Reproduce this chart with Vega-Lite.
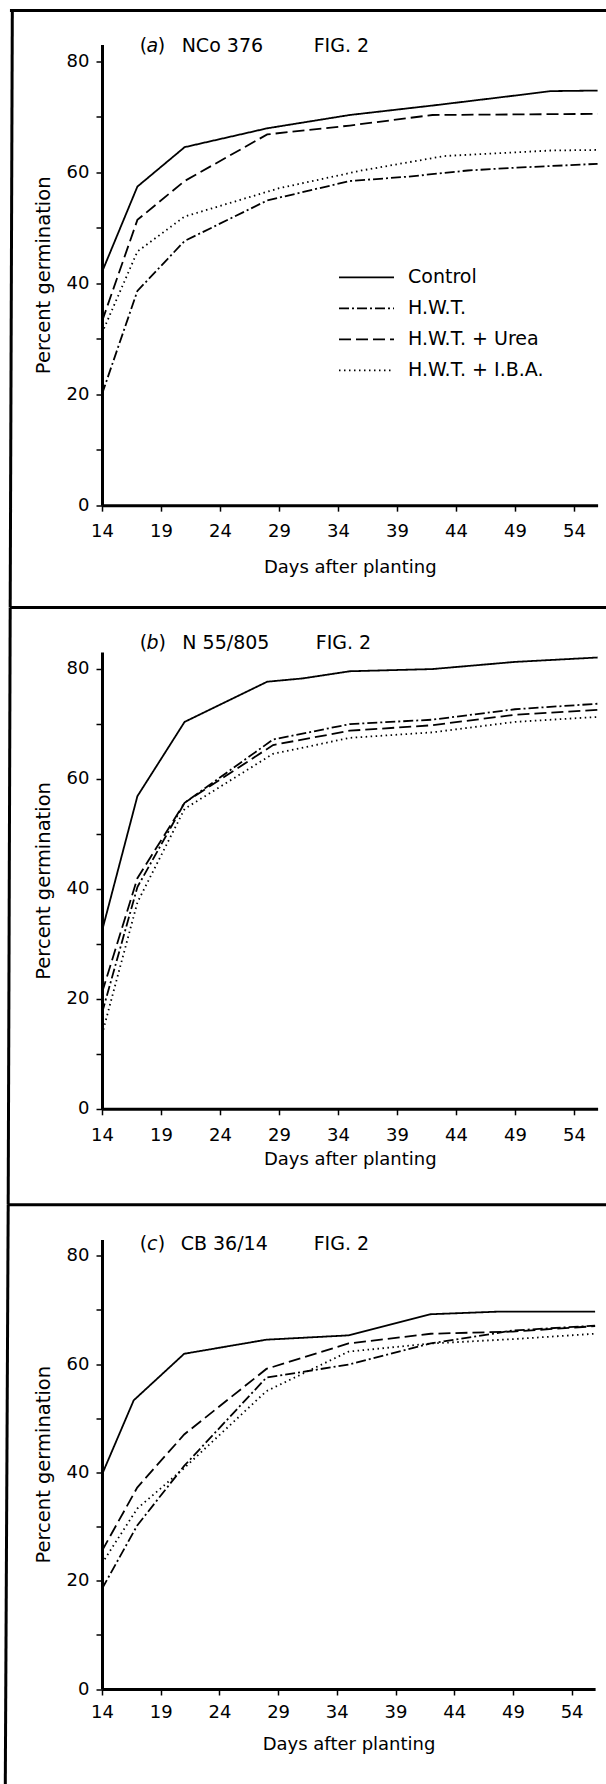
{
  "$schema": "https://vega.github.io/schema/vega-lite/v6.json",
  "background": "white",
  "padding": {"left": 3, "top": 6.5, "right": 0, "bottom": 0},
  "config": {
    "view": {"stroke": null},
    "axis": {"domainColor": "black", "domainWidth": 3, "tickColor": "black", "tickWidth": 1.5, "tickSize": 6, "labelColor": "black", "labelFont": "DejaVu Sans", "labelFontSize": 18, "titleColor": "black", "titleFont": "DejaVu Sans", "titleFontWeight": "normal", "grid": false, "labelFlush": false, "labelOverlap": false},
    "axisX": {"labelPadding": 11, "titleFontSize": 18},
    "axisY": {"labelPadding": 7, "titleFontSize": 19.5, "titlePadding": 13},
    "text": {"font": "DejaVu Sans", "fontSize": 19, "color": "black"}
  },
  "datasets": {
    "germ": [
      {"panel": "a", "treatment": "Control", "day": 14, "pct": 42.0},
      {"panel": "a", "treatment": "Control", "day": 17, "pct": 57.4},
      {"panel": "a", "treatment": "Control", "day": 21, "pct": 64.5},
      {"panel": "a", "treatment": "Control", "day": 28, "pct": 67.9},
      {"panel": "a", "treatment": "Control", "day": 35, "pct": 70.3},
      {"panel": "a", "treatment": "Control", "day": 42, "pct": 72.0},
      {"panel": "a", "treatment": "Control", "day": 49, "pct": 73.8},
      {"panel": "a", "treatment": "Control", "day": 52, "pct": 74.6},
      {"panel": "a", "treatment": "Control", "day": 56, "pct": 74.7},
      {"panel": "a", "treatment": "H.W.T.", "day": 14, "pct": 20.0},
      {"panel": "a", "treatment": "H.W.T.", "day": 17, "pct": 38.6},
      {"panel": "a", "treatment": "H.W.T.", "day": 21, "pct": 47.6},
      {"panel": "a", "treatment": "H.W.T.", "day": 28, "pct": 54.9},
      {"panel": "a", "treatment": "H.W.T.", "day": 35, "pct": 58.4},
      {"panel": "a", "treatment": "H.W.T.", "day": 40, "pct": 59.2},
      {"panel": "a", "treatment": "H.W.T.", "day": 45, "pct": 60.3},
      {"panel": "a", "treatment": "H.W.T.", "day": 49, "pct": 60.8},
      {"panel": "a", "treatment": "H.W.T.", "day": 56, "pct": 61.5},
      {"panel": "a", "treatment": "H.W.T. + Urea", "day": 14, "pct": 33.1},
      {"panel": "a", "treatment": "H.W.T. + Urea", "day": 17, "pct": 51.4},
      {"panel": "a", "treatment": "H.W.T. + Urea", "day": 21, "pct": 58.4},
      {"panel": "a", "treatment": "H.W.T. + Urea", "day": 28, "pct": 66.8},
      {"panel": "a", "treatment": "H.W.T. + Urea", "day": 35, "pct": 68.4},
      {"panel": "a", "treatment": "H.W.T. + Urea", "day": 42, "pct": 70.3},
      {"panel": "a", "treatment": "H.W.T. + Urea", "day": 49, "pct": 70.4},
      {"panel": "a", "treatment": "H.W.T. + Urea", "day": 56, "pct": 70.5},
      {"panel": "a", "treatment": "H.W.T. + I.B.A.", "day": 14, "pct": 31.0},
      {"panel": "a", "treatment": "H.W.T. + I.B.A.", "day": 17, "pct": 45.7},
      {"panel": "a", "treatment": "H.W.T. + I.B.A.", "day": 21, "pct": 52.0},
      {"panel": "a", "treatment": "H.W.T. + I.B.A.", "day": 29, "pct": 57.1},
      {"panel": "a", "treatment": "H.W.T. + I.B.A.", "day": 36, "pct": 60.3},
      {"panel": "a", "treatment": "H.W.T. + I.B.A.", "day": 43, "pct": 62.9},
      {"panel": "a", "treatment": "H.W.T. + I.B.A.", "day": 52, "pct": 63.9},
      {"panel": "a", "treatment": "H.W.T. + I.B.A.", "day": 56, "pct": 64.0},
      {"panel": "b", "treatment": "Control", "day": 14, "pct": 32.3},
      {"panel": "b", "treatment": "Control", "day": 17, "pct": 56.8},
      {"panel": "b", "treatment": "Control", "day": 21, "pct": 70.3},
      {"panel": "b", "treatment": "Control", "day": 28, "pct": 77.6},
      {"panel": "b", "treatment": "Control", "day": 31, "pct": 78.2},
      {"panel": "b", "treatment": "Control", "day": 35, "pct": 79.5},
      {"panel": "b", "treatment": "Control", "day": 42, "pct": 79.9},
      {"panel": "b", "treatment": "Control", "day": 49, "pct": 81.2},
      {"panel": "b", "treatment": "Control", "day": 56, "pct": 82.0},
      {"panel": "b", "treatment": "H.W.T.", "day": 14, "pct": 17.4},
      {"panel": "b", "treatment": "H.W.T.", "day": 17, "pct": 40.3},
      {"panel": "b", "treatment": "H.W.T.", "day": 21, "pct": 55.6},
      {"panel": "b", "treatment": "H.W.T.", "day": 28.5, "pct": 67.1},
      {"panel": "b", "treatment": "H.W.T.", "day": 35, "pct": 69.9},
      {"panel": "b", "treatment": "H.W.T.", "day": 42, "pct": 70.7},
      {"panel": "b", "treatment": "H.W.T.", "day": 49, "pct": 72.6},
      {"panel": "b", "treatment": "H.W.T.", "day": 56, "pct": 73.6},
      {"panel": "b", "treatment": "H.W.T. + Urea", "day": 14, "pct": 21.1},
      {"panel": "b", "treatment": "H.W.T. + Urea", "day": 17, "pct": 41.9},
      {"panel": "b", "treatment": "H.W.T. + Urea", "day": 21, "pct": 55.6},
      {"panel": "b", "treatment": "H.W.T. + Urea", "day": 28.5, "pct": 66.1},
      {"panel": "b", "treatment": "H.W.T. + Urea", "day": 35, "pct": 68.7},
      {"panel": "b", "treatment": "H.W.T. + Urea", "day": 42, "pct": 69.7},
      {"panel": "b", "treatment": "H.W.T. + Urea", "day": 49, "pct": 71.6},
      {"panel": "b", "treatment": "H.W.T. + Urea", "day": 56, "pct": 72.5},
      {"panel": "b", "treatment": "H.W.T. + I.B.A.", "day": 14, "pct": 13.5},
      {"panel": "b", "treatment": "H.W.T. + I.B.A.", "day": 17, "pct": 37.5},
      {"panel": "b", "treatment": "H.W.T. + I.B.A.", "day": 21, "pct": 54.5},
      {"panel": "b", "treatment": "H.W.T. + I.B.A.", "day": 28.5, "pct": 64.5},
      {"panel": "b", "treatment": "H.W.T. + I.B.A.", "day": 35, "pct": 67.4},
      {"panel": "b", "treatment": "H.W.T. + I.B.A.", "day": 42, "pct": 68.4},
      {"panel": "b", "treatment": "H.W.T. + I.B.A.", "day": 49, "pct": 70.3},
      {"panel": "b", "treatment": "H.W.T. + I.B.A.", "day": 56, "pct": 71.2},
      {"panel": "c", "treatment": "Control", "day": 14, "pct": 39.6},
      {"panel": "c", "treatment": "Control", "day": 16.7, "pct": 53.3},
      {"panel": "c", "treatment": "Control", "day": 21, "pct": 61.9},
      {"panel": "c", "treatment": "Control", "day": 28, "pct": 64.5},
      {"panel": "c", "treatment": "Control", "day": 35, "pct": 65.3},
      {"panel": "c", "treatment": "Control", "day": 42, "pct": 69.2},
      {"panel": "c", "treatment": "Control", "day": 48, "pct": 69.7},
      {"panel": "c", "treatment": "Control", "day": 56, "pct": 69.7},
      {"panel": "c", "treatment": "H.W.T.", "day": 14, "pct": 18.5},
      {"panel": "c", "treatment": "H.W.T.", "day": 17, "pct": 30.2},
      {"panel": "c", "treatment": "H.W.T.", "day": 21, "pct": 41.2},
      {"panel": "c", "treatment": "H.W.T.", "day": 28, "pct": 57.5},
      {"panel": "c", "treatment": "H.W.T.", "day": 35, "pct": 59.9},
      {"panel": "c", "treatment": "H.W.T.", "day": 42, "pct": 63.8},
      {"panel": "c", "treatment": "H.W.T.", "day": 49, "pct": 66.2},
      {"panel": "c", "treatment": "H.W.T.", "day": 56, "pct": 67.1},
      {"panel": "c", "treatment": "H.W.T. + Urea", "day": 14, "pct": 25.5},
      {"panel": "c", "treatment": "H.W.T. + Urea", "day": 17, "pct": 37.2},
      {"panel": "c", "treatment": "H.W.T. + Urea", "day": 21, "pct": 47.0},
      {"panel": "c", "treatment": "H.W.T. + Urea", "day": 28, "pct": 59.1},
      {"panel": "c", "treatment": "H.W.T. + Urea", "day": 35, "pct": 63.8},
      {"panel": "c", "treatment": "H.W.T. + Urea", "day": 42, "pct": 65.6},
      {"panel": "c", "treatment": "H.W.T. + Urea", "day": 49, "pct": 66.0},
      {"panel": "c", "treatment": "H.W.T. + Urea", "day": 56, "pct": 67.0},
      {"panel": "c", "treatment": "H.W.T. + I.B.A.", "day": 14, "pct": 23.2},
      {"panel": "c", "treatment": "H.W.T. + I.B.A.", "day": 17, "pct": 33.3},
      {"panel": "c", "treatment": "H.W.T. + I.B.A.", "day": 21, "pct": 40.8},
      {"panel": "c", "treatment": "H.W.T. + I.B.A.", "day": 28, "pct": 55.0},
      {"panel": "c", "treatment": "H.W.T. + I.B.A.", "day": 35, "pct": 62.3},
      {"panel": "c", "treatment": "H.W.T. + I.B.A.", "day": 42, "pct": 63.8},
      {"panel": "c", "treatment": "H.W.T. + I.B.A.", "day": 49, "pct": 64.6},
      {"panel": "c", "treatment": "H.W.T. + I.B.A.", "day": 56, "pct": 65.6}
    ]
  },
  "resolve": {"legend": {"strokeDash": "independent"}},
  "bounds": "flush",
  "spacing": 146.5,
  "vconcat": [
    {
      "width": 495.6,
      "height": 460.65,
      "layer": [
        {
          "data": {"name": "germ"},
          "transform": [{"filter": "datum.panel === 'a'"}],
          "mark": {"type": "line", "strokeWidth": 1.8, "color": "black"},
          "encoding": {
            "x": {"field": "day", "type": "quantitative", "scale": {"domain": [14, 56], "nice": false, "zero": false}, "axis": {"values": [14, 19, 24, 29, 34, 39, 44, 49, 54], "title": "Days after planting", "titlePadding": 18}},
            "y": {"field": "pct", "type": "quantitative", "scale": {"domain": [0, 83], "nice": false}, "axis": {"values": [0, 10, 20, 30, 40, 50, 60, 70, 80], "labelExpr": "datum.value % 20 === 0 ? datum.label : ''", "title": "Percent germination"}},
            "strokeDash": {"field": "treatment", "type": "nominal", "scale": {"domain": ["Control", "H.W.T.", "H.W.T. + Urea", "H.W.T. + I.B.A."], "range": [[1, 0], [10, 3, 2, 3], [12, 5], [1.5, 3.5]]},
              "legend": {"orient": "none", "legendX": 255, "legendY": 223.4, "title": null, "padding": 0, "symbolType": "M-5,0H5", "symbolSize": 121, "symbolStrokeWidth": 1.7, "symbolStrokeColor": "black", "labelFont": "DejaVu Sans", "labelFontSize": 19, "labelColor": "black", "labelOffset": 32, "rowPadding": 11, "labelLimit": 400}}
          }
        },
        {"data": {"values": [{}]}, "mark": {"type": "rule", "strokeWidth": 3, "color": "black"}, "encoding": {"x": {"datum": 6.2}, "x2": {"datum": 60}, "y": {"datum": 89.14}}},
        {"data": {"values": [{}]}, "mark": {"type": "rule", "strokeWidth": 3, "color": "black"}, "encoding": {"x": {"datum": 6.2}, "x2": {"datum": 60}, "y": {"datum": -18.43}}},
        {"data": {"values": [{}]}, "mark": {"type": "rule", "strokeWidth": 3, "color": "black"}, "encoding": {"x": {"datum": 6.40}, "y": {"datum": 89.4}, "x2": {"datum": 6.22}, "y2": {"datum": -18.43}}},
        {"data": {"values": [{}]}, "mark": {"type": "text", "text": "(", "align": "left", "baseline": "alphabetic"}, "encoding": {"x": {"datum": 17.19}, "y": {"datum": 81.6}}},
        {"data": {"values": [{}]}, "mark": {"type": "text", "text": "a", "fontStyle": "italic", "align": "left", "baseline": "alphabetic"}, "encoding": {"x": {"datum": 17.78}, "y": {"datum": 81.6}}},
        {"data": {"values": [{}]}, "mark": {"type": "text", "text": ")", "align": "left", "baseline": "alphabetic"}, "encoding": {"x": {"datum": 18.72}, "y": {"datum": 81.6}}},
        {"data": {"values": [{}]}, "mark": {"type": "text", "text": "NCo 376", "align": "left", "baseline": "alphabetic"}, "encoding": {"x": {"datum": 20.75}, "y": {"datum": 81.6}}},
        {"data": {"values": [{}]}, "mark": {"type": "text", "text": "FIG. 2", "align": "left", "baseline": "alphabetic"}, "encoding": {"x": {"datum": 31.94}, "y": {"datum": 81.6}}}
      ]
    },
    {
      "resolve": {"legend": {"strokeDash": "independent"}},
      "bounds": "flush",
      "spacing": 130.5,
      "vconcat": [
        {
          "width": 495.6,
          "height": 456.8,
          "layer": [
            {
              "data": {"name": "germ"},
              "transform": [{"filter": "datum.panel === 'b'"}],
              "mark": {"type": "line", "strokeWidth": 1.8, "color": "black"},
              "encoding": {
                "x": {"field": "day", "type": "quantitative", "scale": {"domain": [14, 56], "nice": false, "zero": false}, "axis": {"values": [14, 19, 24, 29, 34, 39, 44, 49, 54], "title": "Days after planting", "titlePadding": 6, "labelPadding": 11.5}},
                "y": {"field": "pct", "type": "quantitative", "scale": {"domain": [0, 83], "nice": false}, "axis": {"values": [0, 10, 20, 30, 40, 50, 60, 70, 80], "labelExpr": "datum.value % 20 === 0 ? datum.label : ''", "title": "Percent germination"}},
                "strokeDash": {"field": "treatment", "type": "nominal", "scale": {"domain": ["Control", "H.W.T.", "H.W.T. + Urea", "H.W.T. + I.B.A."], "range": [[1, 0], [10, 3, 2, 3], [12, 5], [1.5, 3.5]]}, "legend": null}
              }
            },
            {"data": {"values": [{}]}, "mark": {"type": "rule", "strokeWidth": 3, "color": "black"}, "encoding": {"x": {"datum": 6.0}, "x2": {"datum": 60}, "y": {"datum": -17.44}}},
            {"data": {"values": [{}]}, "mark": {"type": "rule", "strokeWidth": 3, "color": "black"}, "encoding": {"x": {"datum": 6.22}, "y": {"datum": 91.02}, "x2": {"datum": 6.05}, "y2": {"datum": -17.44}}},
            {"data": {"values": [{}]}, "mark": {"type": "text", "text": "(", "align": "left", "baseline": "alphabetic"}, "encoding": {"x": {"datum": 17.19}, "y": {"datum": 83.6}}},
            {"data": {"values": [{}]}, "mark": {"type": "text", "text": "b", "fontStyle": "italic", "align": "left", "baseline": "alphabetic"}, "encoding": {"x": {"datum": 17.78}, "y": {"datum": 83.6}}},
            {"data": {"values": [{}]}, "mark": {"type": "text", "text": ")", "align": "left", "baseline": "alphabetic"}, "encoding": {"x": {"datum": 18.78}, "y": {"datum": 83.6}}},
            {"data": {"values": [{}]}, "mark": {"type": "text", "text": "N 55/805", "align": "left", "baseline": "alphabetic"}, "encoding": {"x": {"datum": 20.81}, "y": {"datum": 83.6}}},
            {"data": {"values": [{}]}, "mark": {"type": "text", "text": "FIG. 2", "align": "left", "baseline": "alphabetic"}, "encoding": {"x": {"datum": 32.11}, "y": {"datum": 83.6}}}
          ]
        },
        {
          "width": 493.1,
          "height": 449.5,
          "layer": [
            {
              "data": {"name": "germ"},
              "transform": [{"filter": "datum.panel === 'c'"}],
              "mark": {"type": "line", "strokeWidth": 1.8, "color": "black"},
              "encoding": {
                "x": {"field": "day", "type": "quantitative", "scale": {"domain": [14, 56], "nice": false, "zero": false}, "axis": {"values": [14, 19, 24, 29, 34, 39, 44, 49, 54], "title": "Days after planting", "titlePadding": 14, "labelPadding": 8}},
                "y": {"field": "pct", "type": "quantitative", "scale": {"domain": [0, 83], "nice": false}, "axis": {"values": [0, 10, 20, 30, 40, 50, 60, 70, 80], "labelExpr": "datum.value % 20 === 0 ? datum.label : ''", "title": "Percent germination"}},
                "strokeDash": {"field": "treatment", "type": "nominal", "scale": {"domain": ["Control", "H.W.T.", "H.W.T. + Urea", "H.W.T. + I.B.A."], "range": [[1, 0], [10, 3, 2, 3], [12, 5], [1.5, 3.5]]}, "legend": null}
              }
            },
            {"data": {"values": [{}]}, "mark": {"type": "rule", "strokeWidth": 3, "color": "black"}, "encoding": {"x": {"datum": 6.01}, "y": {"datum": 89.37}, "x2": {"datum": 5.755}, "y2": {"datum": -21.05}}},
            {"data": {"values": [{}]}, "mark": {"type": "text", "text": "(", "align": "left", "baseline": "alphabetic"}, "encoding": {"x": {"datum": 17.21}, "y": {"datum": 81.1}}},
            {"data": {"values": [{}]}, "mark": {"type": "text", "text": "c", "fontStyle": "italic", "align": "left", "baseline": "alphabetic"}, "encoding": {"x": {"datum": 17.84}, "y": {"datum": 81.1}}},
            {"data": {"values": [{}]}, "mark": {"type": "text", "text": ")", "align": "left", "baseline": "alphabetic"}, "encoding": {"x": {"datum": 18.74}, "y": {"datum": 81.1}}},
            {"data": {"values": [{}]}, "mark": {"type": "text", "text": "CB 36/14", "align": "left", "baseline": "alphabetic"}, "encoding": {"x": {"datum": 20.70}, "y": {"datum": 81.1}}},
            {"data": {"values": [{}]}, "mark": {"type": "text", "text": "FIG. 2", "align": "left", "baseline": "alphabetic"}, "encoding": {"x": {"datum": 32.03}, "y": {"datum": 81.1}}}
          ]
        }
      ]
    }
  ]
}
